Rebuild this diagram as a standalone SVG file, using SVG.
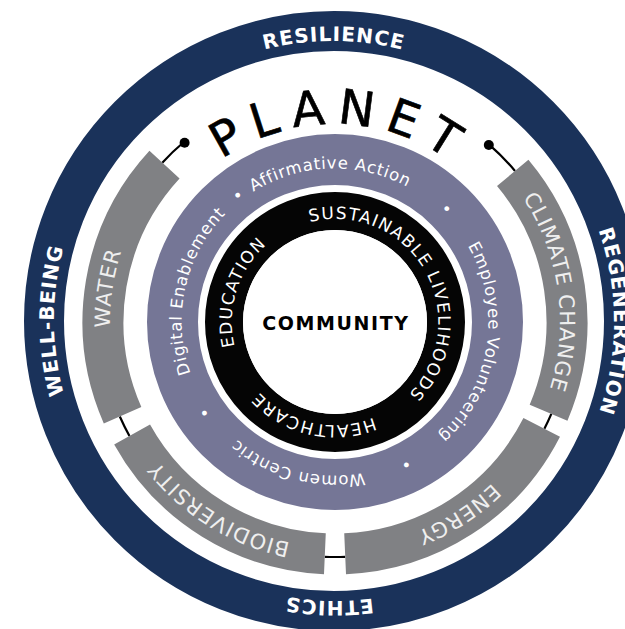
<svg xmlns="http://www.w3.org/2000/svg" xmlns:xlink="http://www.w3.org/1999/xlink" width="625" height="629" viewBox="0 0 625 629">
<style>
.navy{fill:none;stroke:#1a325a;stroke-width:40}
.seg{fill:none;stroke:#808184;stroke-width:41;stroke-linecap:butt}
.conn{fill:none;stroke:#000;stroke-width:2.2}
.dot{fill:#000}
.nl{font-family:"DejaVu Sans",sans-serif;font-weight:bold;font-size:20px;letter-spacing:1px;fill:#fff}
.gl{font-family:"DejaVu Sans",sans-serif;font-size:21px;letter-spacing:1px;fill:#efefef}
.pl{font-family:"DejaVu Sans",sans-serif;font-size:16.5px;letter-spacing:0.8px;fill:#fff}
.bl{font-family:"DejaVu Sans",sans-serif;font-size:17px;letter-spacing:1.4px;fill:#fff}
.big{font-family:"DejaVu Sans",sans-serif;font-size:48px;letter-spacing:11px;fill:#000;stroke:#000;stroke-width:0.6}
.core{font-family:"DejaVu Sans",sans-serif;font-weight:bold;font-size:19px;letter-spacing:1.6px;fill:#000}
</style>
<defs>
<path id="pNavy" d="M531.28 123.72 A279 279 0 1 1 136.72 518.28 A279 279 0 1 1 531.28 123.72"/>
<path id="pGray" d="M335 97 A225 225 0 1 1 335 547 A225 225 0 1 1 335 97"/>
<path id="pPurple" d="M452.2 223.65 A153 153 0 1 1 217.8 420.35 A153 153 0 1 1 452.2 223.65"/>
<path id="pBlack" d="M283.5 232.8 A103 103 0 1 1 386.5 411.2 A103 103 0 1 1 283.5 232.8"/>
<path id="pPlanet" d="M137 322 A198 198 0 0 1 533 322"/>
</defs>
<rect width="625" height="629" fill="#fff"/>

<g id="outer-values">
<circle class="navy" cx="334" cy="321" r="290"/>
<text class="nl" text-anchor="middle"><textPath xlink:href="#pNavy" startOffset="87.5%">RESILIENCE</textPath></text>
<text class="nl" text-anchor="middle"><textPath xlink:href="#pNavy" startOffset="12.5%">REGENERATION</textPath></text>
<text class="nl" text-anchor="middle"><textPath xlink:href="#pNavy" startOffset="37.78%">ETHICS</textPath></text>
<text class="nl" text-anchor="middle"><textPath xlink:href="#pNavy" startOffset="62.5%">WELL-BEING</textPath></text>
</g>

<g id="planet">
<text class="big" text-anchor="middle"><textPath xlink:href="#pPlanet" startOffset="50.8%">PLANET</textPath></text>
</g>

<g id="connectors">
<path class="conn" d="M162.3 162.63 A235 235 0 0 1 183.94 141.98"/>
<path class="conn" d="M489.17 144.64 A235 235 0 0 1 515.02 170.94"/>
<path class="conn" d="M551.32 413.82 A235 235 0 0 1 544.39 428.69"/>
<path class="conn" d="M345.25 556.78 A235 235 0 0 1 324.75 556.78"/>
<path class="conn" d="M129.46 435.93 A235 235 0 0 1 119.82 416.46"/>
<circle class="dot" cx="184.6" cy="142.8" r="5"/>
<circle class="dot" cx="488.8" cy="145" r="5"/>
</g>

<g id="climate-change">
<path class="seg" d="M512.72 172.87 A232 232 0 0 1 548.56 412.65"/>
<text class="gl" text-anchor="middle"><textPath xlink:href="#pGray" startOffset="22.78%">CLIMATE CHANGE</textPath></text>
</g>
<g id="energy">
<path class="seg" d="M541.71 427.33 A232 232 0 0 1 345.12 553.78"/>
<text class="gl" text-anchor="middle"><textPath xlink:href="#pGray" startOffset="40.9%">ENERGY</textPath></text>
</g>
<g id="biodiversity">
<path class="seg" d="M324.88 553.78 A232 232 0 0 1 132.09 434.48"/>
<text class="gl" text-anchor="middle"><textPath xlink:href="#pGray" startOffset="58.82%">BIODIVERSITY</textPath></text>
</g>
<g id="water">
<path class="seg" d="M122.57 415.25 A232 232 0 0 1 164.5 164.67"/>
<text class="gl" text-anchor="middle"><textPath xlink:href="#pGray" startOffset="77.36%">WATER</textPath></text>
</g>

<g id="programs">
<circle cx="335" cy="322" r="162.5" fill="none" stroke="#757696" stroke-width="51"/>
<text class="pl" text-anchor="middle"><textPath xlink:href="#pPurple" startOffset="85.6%">Affirmative Action</textPath></text>
<text class="pl" text-anchor="middle"><textPath xlink:href="#pPurple" startOffset="13.61%">Employee Volunteering</textPath></text>
<text class="pl" text-anchor="middle"><textPath xlink:href="#pPurple" startOffset="40.17%">Women Centric</textPath></text>
<text class="pl" text-anchor="middle"><textPath xlink:href="#pPurple" startOffset="64.61%">Digital Enablement</textPath></text>
<text class="pl" text-anchor="middle"><textPath xlink:href="#pPurple" startOffset="75.75%">•</textPath></text>
<text class="pl" text-anchor="middle"><textPath xlink:href="#pPurple" startOffset="98.53%">•</textPath></text>
<text class="pl" text-anchor="middle"><textPath xlink:href="#pPurple" startOffset="28.81%">•</textPath></text>
<text class="pl" text-anchor="middle"><textPath xlink:href="#pPurple" startOffset="51.47%">•</textPath></text>
</g>

<g id="focus-areas">
<circle cx="335" cy="322" r="111" fill="none" stroke="#050505" stroke-width="38"/>
<text class="bl" text-anchor="middle"><textPath xlink:href="#pBlack" startOffset="25.11%">SUSTAINABLE LIVELIHOODS</textPath></text>
<text class="bl" text-anchor="middle"><textPath xlink:href="#pBlack" startOffset="61.92%">HEALTHCARE</textPath></text>
<text class="bl" text-anchor="middle"><textPath xlink:href="#pBlack" startOffset="88.22%">EDUCATION</textPath></text>
</g>

<g id="community">
<circle cx="335" cy="322" r="92" fill="#fff"/>
<text class="core" x="336" y="330" text-anchor="middle">COMMUNITY</text>
</g>
</svg>
